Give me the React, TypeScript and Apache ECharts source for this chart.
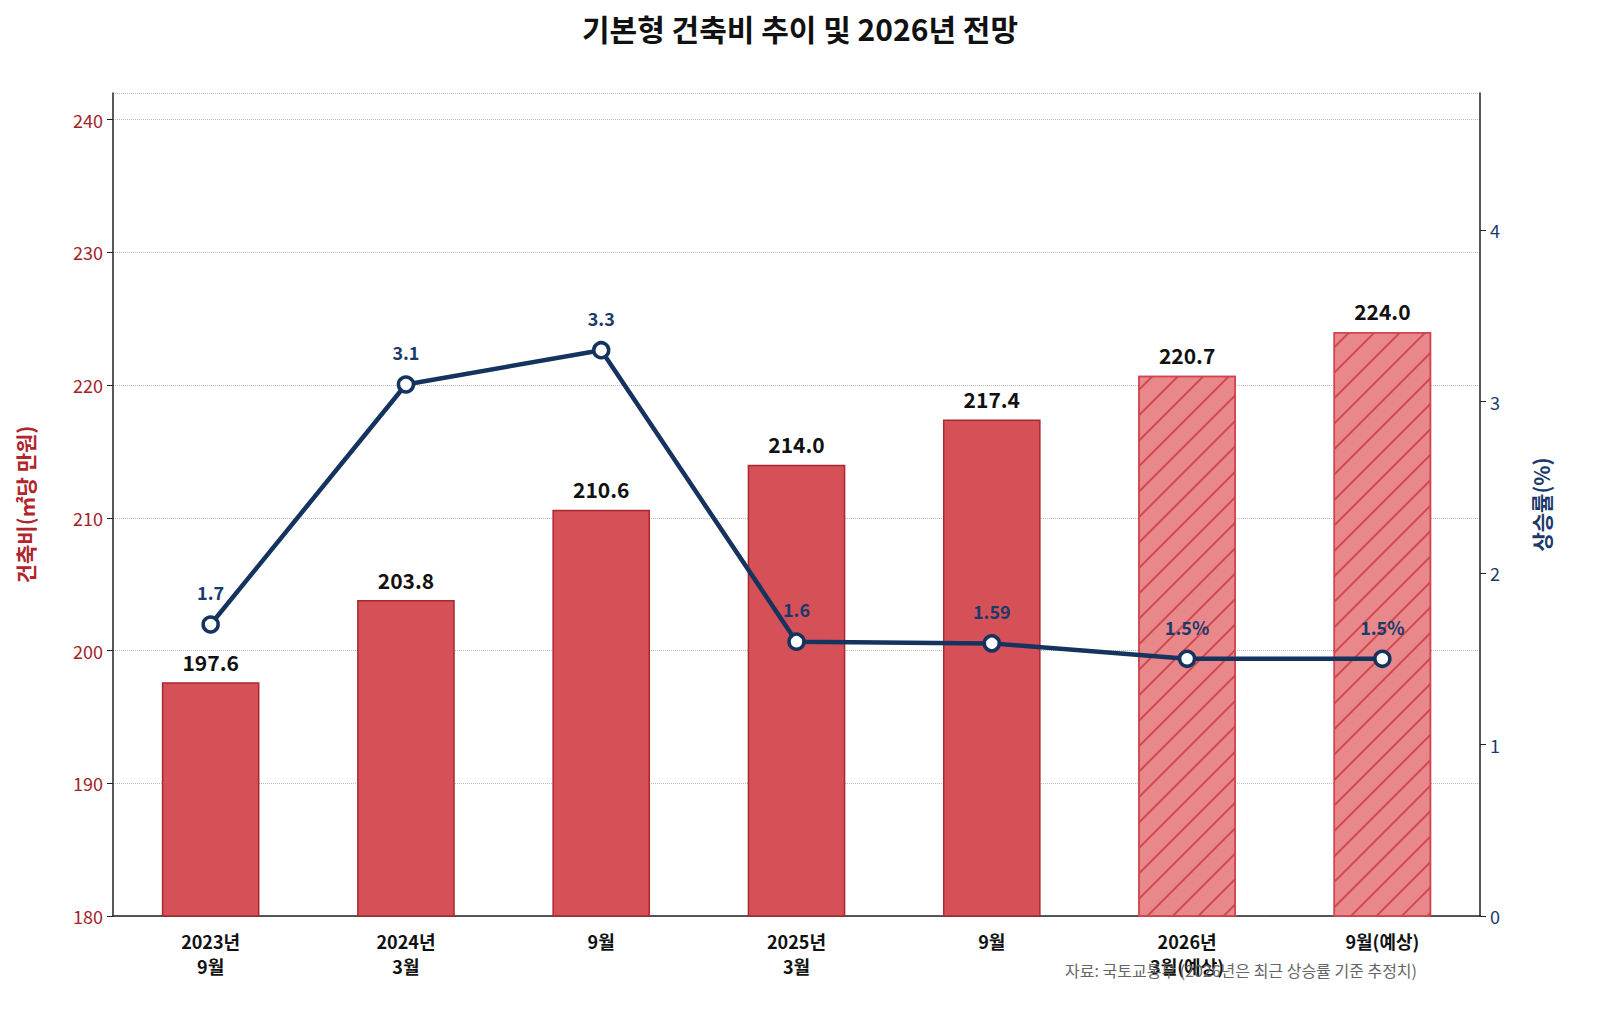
import { useEffect, useRef } from "react";
import * as echarts from "echarts";

const categories = ["2023년\n9월", "2024년\n3월", "9월", "2025년\n3월", "9월", "2026년\n3월(예상)", "9월(예상)"];
const costs = [197.6, 203.8, 210.6, 214.0, 217.4, 220.7, 224.0];
const rates = [1.7, 3.1, 3.3, 1.6, 1.59, 1.5, 1.5];
const rateLabels = ["1.7", "3.1", "3.3", "1.6", "1.59", "1.5%", "1.5%"];
const forecastFrom = 5;

const FONT = "'Noto Sans CJK KR', 'Noto Sans', sans-serif";

export default function App() {
  const ref = useRef<HTMLDivElement>(null);

  useEffect(() => {
    const el = ref.current;
    if (!el) return;
    const chart = echarts.init(el, undefined, { renderer: "svg" });
    chart.setOption({
      animation: false,
      textStyle: { fontFamily: FONT },
      title: {
        text: "기본형 건축비 추이 및 2026년 전망",
        left: "center",
        top: 8,
        textStyle: { fontSize: 30, fontWeight: "bold", color: "#111", fontFamily: FONT },
      },
      grid: { left: 113, right: 120, top: 93, bottom: 103 },
      xAxis: {
        type: "category",
        data: categories,
        axisLine: { lineStyle: { color: "#222", width: 1.5 } },
        axisTick: { show: false },
        axisLabel: { fontSize: 18, fontWeight: "bold", color: "#111", lineHeight: 25, margin: 12 },
      },
      yAxis: [
        {
          type: "value",
          min: 180,
          max: 242,
          interval: 10,
          name: "건축비(㎡당 만원)",
          nameLocation: "middle",
          nameGap: 78,
          nameRotate: 90,
          nameTextStyle: { fontSize: 21, fontWeight: "bold", color: "#b0242c" },
          axisLine: { show: true, lineStyle: { color: "#222", width: 1.5 } },
          axisTick: { show: true, length: 6, lineStyle: { color: "#222" } },
          axisLabel: { fontSize: 18, color: "#a3222a", margin: 10, showMaxLabel: false },
          splitLine: { lineStyle: { color: "#bbb", type: "dotted" } },
        },
        {
          type: "value",
          min: 0,
          max: 4.8,
          interval: 1,
          name: "상승률(%)",
          nameLocation: "middle",
          nameGap: 50,
          nameRotate: 90,
          nameTextStyle: { fontSize: 21, fontWeight: "bold", color: "#1a3a6b" },
          axisLine: { show: true, lineStyle: { color: "#222", width: 1.5 } },
          axisTick: { show: true, length: 6, lineStyle: { color: "#222" }, interval: 0 },
          axisLabel: { fontSize: 18, color: "#1a3a6b", margin: 10, showMaxLabel: false },
          splitLine: { show: false },
        },
      ],
      series: [
        {
          type: "bar",
          barWidth: "50%",
          data: costs.map((v, i) =>
            i >= forecastFrom
              ? {
                  value: v,
                  itemStyle: {
                    color: "#e8888b",
                    borderColor: "#d04550",
                    borderWidth: 1.5,
                    decal: {
                      symbol: "rect",
                      dashArrayX: [1, 0],
                      dashArrayY: [1.5, 16],
                      rotation: -Math.PI / 4,
                      color: "rgba(200,50,60,0.75)",
                    },
                  },
                }
              : { value: v, itemStyle: { color: "#d65058", borderColor: "#a8282f", borderWidth: 1.5 } }
          ),
          label: {
            show: true,
            position: "top",
            distance: 10,
            fontSize: 21,
            fontWeight: "bold",
            color: "#111",
            formatter: (p: any) => Number(p.value).toFixed(1),
          },
          z: 1,
        },
        {
          type: "line",
          yAxisIndex: 1,
          data: rates,
          symbol: "circle",
          symbolSize: 15,
          lineStyle: { color: "#14335f", width: 4.5 },
          itemStyle: { color: "#fff", borderColor: "#14335f", borderWidth: 3.5 },
          label: {
            show: true,
            position: "top",
            distance: 14,
            fontSize: 18,
            fontWeight: "bold",
            color: "#1a3a6b",
            formatter: (p: any) => rateLabels[p.dataIndex],
          },
          z: 3,
        },
      ],
      graphic: [
        {
          type: "text",
          right: 183,
          top: 962,
          style: {
            text: "자료: 국토교통부 (2026년은 최근 상승률 기준 추정치)",
            fontSize: 16,
            fill: "#666",
            fontFamily: FONT,
          },
          z: 10,
        },
      ],
    });
    return () => chart.dispose();
  }, []);

  return <div ref={ref} style={{ position: "absolute", left: 0, top: 0, width: 1600, height: 1019, background: "#fff" }} />;
}
